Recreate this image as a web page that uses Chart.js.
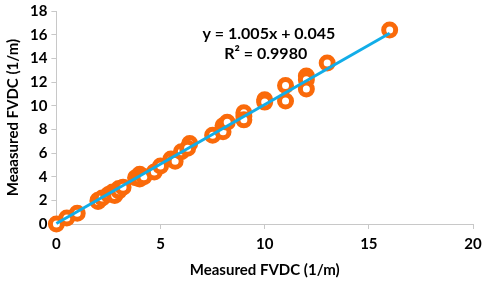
<!DOCTYPE html>
<html>
<head>
<meta charset="utf-8">
<script src="https://cdn.jsdelivr.net/npm/chart.js@4.4.1/dist/chart.umd.min.js"></script>
<style>
  html, body { margin: 0; padding: 0; background: #fff; }
  #wrap { width: 484px; height: 281px; position: relative; }
</style>
</head>
<body>
<div id="wrap"><canvas id="chart"></canvas></div>
<script>
const measuredX = [0, 0.5, 1, 2, 2, 2.2, 2.5, 2.7, 2.8, 3, 3, 3.2, 3.8, 4, 4, 4.2, 4.7, 5, 5.5, 5.7, 6, 6.4, 6.3, 7.5, 8, 8, 8.2, 9, 9, 9, 10, 10, 11, 11, 12, 12, 12, 13, 16];
const measuredY = [0, 0.5, 0.9, 2, 1.9, 2.2, 2.5, 2.7, 2.4, 3, 2.8, 3.1, 3.9, 4.2, 3.8, 4.0, 4.4, 4.9, 5.5, 5.3, 6.1, 6.8, 6.4, 7.5, 8.3, 7.8, 8.6, 9.1, 9.4, 8.8, 10.5, 10.3, 11.7, 10.4, 12.5, 12.2, 11.4, 13.6, 16.4];

// linear trend endpoints (y = 1.005x + 0.045)
const trendX = [0, 16];
const trendY = [0.045, 16.125];

const equationText = 'y = 1.005x + 0.045';
const r2Text = 'R\u00B2 = 0.9980';

const xTicks = [0, 5, 10, 15, 20];
const yTicks = [0, 2, 4, 6, 8, 10, 12, 14, 16, 18];

const font = 'Lato';

const equationLabel = {
    id: 'equationLabel',
    afterDraw(chart) {
        const ctx = chart.ctx;
        const xs = chart.scales.x, ys = chart.scales.y;
        ctx.save();
        ctx.fillStyle = '#000';
        ctx.font = 'bold 16px ' + font;
        ctx.textAlign = 'center';
        ctx.textBaseline = 'middle';
        ctx.fillText(equationText, xs.getPixelForValue(10.2), ys.getPixelForValue(16.1));
        ctx.fillText(r2Text, xs.getPixelForValue(10.05), ys.getPixelForValue(14.4));
        ctx.restore();
    }
};

new Chart(document.getElementById('chart'), {
    type: 'scatter',
    data: {
        datasets: [
            {
                type: 'line',
                data: trendX.map((x, i) => ({ x: x, y: trendY[i] })),
                borderColor: '#12ade8',
                borderWidth: 3,
                pointRadius: 0,
                fill: false,
                clip: false,
                order: 0
            },
            {
                data: measuredX.map((x, i) => ({ x: x, y: measuredY[i] })),
                backgroundColor: '#ffffff',
                borderColor: '#fa6a0a',
                borderWidth: 5,
                pointRadius: 6,
                clip: false,
                order: 1
            }
        ]
    },
    options: {
        responsive: true,
        maintainAspectRatio: false,
        animation: false,
        layout: { padding: { top: 6, right: 9, left: 4, bottom: 2 } },
        plugins: {
            legend: { display: false },
            tooltip: { enabled: false }
        },
        scales: {
            x: {
                type: 'linear',
                min: 0,
                max: 20,
                afterBuildTicks: (axis) => { axis.ticks = xTicks.map(v => ({ value: v })); },
                afterFit: (axis) => { axis.paddingRight = 0; },
                grid: { drawOnChartArea: false, drawTicks: true, tickLength: 5, color: '#c8c8c8' },
                border: { color: '#c8c8c8', width: 1 },
                ticks: { color: '#000', font: { family: font, size: 15, weight: 'bold' }, padding: 6 },
                title: {
                    display: true,
                    text: 'Measured FVDC (1/m)',
                    color: '#000',
                    font: { family: font, size: 15, weight: 'bold' },
                    padding: { top: 2, bottom: 0 }
                }
            },
            y: {
                type: 'linear',
                min: 0,
                max: 18,
                afterBuildTicks: (axis) => { axis.ticks = yTicks.map(v => ({ value: v })); },
                afterFit: (axis) => { axis.paddingTop = 0; },
                grid: { drawOnChartArea: false, drawTicks: true, tickLength: 5, color: '#c8c8c8' },
                border: { color: '#c8c8c8', width: 1 },
                ticks: { color: '#000', font: { family: font, size: 15, weight: 'bold' }, padding: 4 },
                title: {
                    display: true,
                    text: 'Meaasured FVDC (1/m)',
                    color: '#000',
                    font: { family: font, size: 15, weight: 'bold' },
                    padding: { top: 0, bottom: 4 }
                }
            }
        }
    },
    plugins: [equationLabel]
});
</script>
</body>
</html>
